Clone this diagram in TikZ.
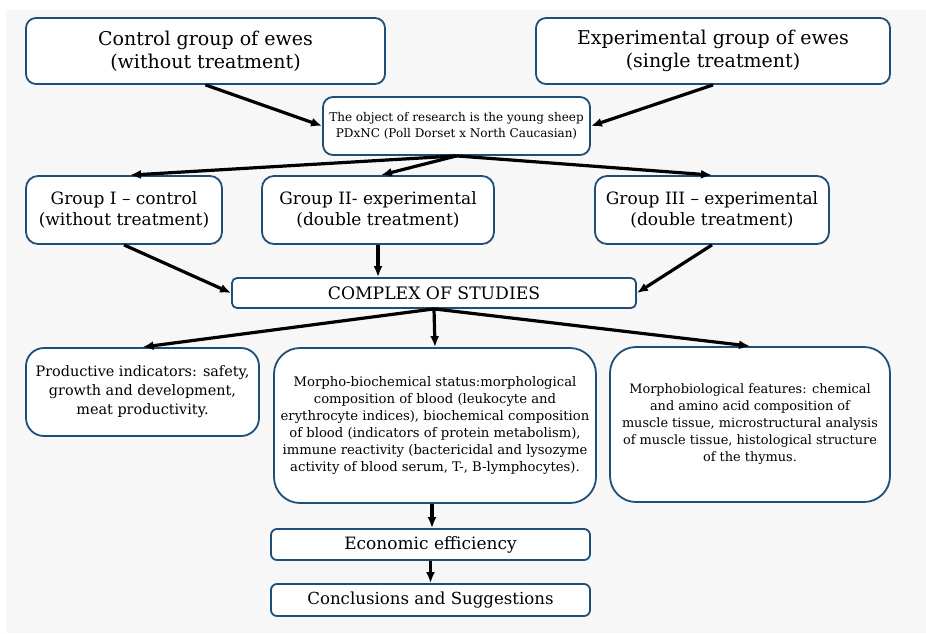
\documentclass[tikz,border=0pt]{standalone}
\usepackage{fontspec}
\setmainfont{DejaVu Serif}
\usepackage{tikz}
\usetikzlibrary{arrows.meta}
\definecolor{boxblue}{RGB}{31,78,121}

\begin{document}
\begin{tikzpicture}[x=1pt,y=-1pt,>={Latex[length=11pt,width=9pt]}]
  \tikzstyle{StudyBox}=[rectangle,rounded corners=10pt,draw=boxblue,line width=1.8pt,fill=white,align=center,inner sep=2pt]
  \tikzstyle{StudyArrow}=[->,line width=3.2pt]
  \useasboundingbox (0,0) rectangle (926,633);
  \fill[black!3] (6,10) rectangle (926,633);

  % groups of ewes
  \node[StudyBox, minimum width=359pt, minimum height=66pt, font=\fontsize{19}{23}\selectfont] (control) at (205.5,51) {Control group of ewes\\(without treatment)};
  \node[StudyBox, minimum width=354pt, minimum height=66pt, font=\fontsize{19}{23}\selectfont] (experimental) at (713,51) {Experimental group of ewes\\(single treatment)};

  % object of research
  \node[StudyBox, minimum width=267pt, minimum height=58pt, font=\fontsize{12}{16}\selectfont] (object) at (456.5,126) {The object of research is the young sheep\\PDxNC (Poll Dorset x North Caucasian)};

  % experimental groups
  \node[StudyBox, rounded corners=12pt, minimum width=196pt, minimum height=68pt, font=\fontsize{17}{21}\selectfont] (groupI) at (124,210) {Group I -- control\\(without treatment)};
  \node[StudyBox, rounded corners=12pt, minimum width=232pt, minimum height=68pt, font=\fontsize{17}{21}\selectfont] (groupII) at (378,210) {Group II- experimental\\(double treatment)};
  \node[StudyBox, rounded corners=12pt, minimum width=234pt, minimum height=68pt, font=\fontsize{17}{21}\selectfont] (groupIII) at (712,210) {Group III -- experimental\\(double treatment)};

  \node[StudyBox, rounded corners=5pt, minimum width=404pt, minimum height=30pt, font=\fontsize{17.2}{18}\selectfont] (complex) at (434,293) {COMPLEX OF STUDIES};

  % studies
  \node[StudyBox, rounded corners=18pt, minimum width=233pt, minimum height=88pt, font=\fontsize{14.4}{19}\selectfont] (productive) at (142.5,392) {Productive indicators: safety,\\growth and development,\\meat productivity.};
  \node[StudyBox, rounded corners=26pt, minimum width=322pt, minimum height=155pt, font=\fontsize{13.2}{17}\selectfont] (morpho) at (435,425.5) {Morpho-biochemical status:morphological\\composition of blood (leukocyte and\\erythrocyte indices), biochemical composition\\of blood (indicators of protein metabolism),\\immune reactivity (bactericidal and lysozyme\\activity of blood serum, T-, B-lymphocytes).};
  \node[StudyBox, rounded corners=26pt, minimum width=280pt, minimum height=155pt, font=\fontsize{12.9}{17}\selectfont] (morphobio) at (750,424.5) {Morphobiological features: chemical\\and amino acid composition of\\muscle tissue, microstructural analysis\\of muscle tissue, histological structure\\of the thymus.};

  % results
  \node[StudyBox, rounded corners=6pt, minimum width=319pt, minimum height=31pt, font=\fontsize{17}{18}\selectfont] (economic) at (430.5,544.5) {Economic efficiency};
  \node[StudyBox, rounded corners=6pt, minimum width=319pt, minimum height=32pt, font=\fontsize{16.6}{18}\selectfont] (conclusions) at (430.5,600) {Conclusions and Suggestions};

  % edges
  \draw[StudyArrow] (control.south) -- (object.west);
  \draw[StudyArrow] (experimental.south) -- (object.east);
  \draw[StudyArrow] (object.south) -- ([xshift=6pt]groupI.north);
  \draw[StudyArrow] (object.south) -- ([xshift=3pt]groupII.north);
  \draw[StudyArrow] (object.south) -- (groupIII.north);
  \draw[StudyArrow] (groupI.south) -- (complex.west);
  \draw[StudyArrow] (groupII.south) -- (groupII.south |- complex.north);
  \draw[StudyArrow] (groupIII.south) -- (complex.east);
  \draw[StudyArrow] (complex.south) -- (productive.north);
  \draw[StudyArrow] (complex.south) -- (morpho.north);
  \draw[StudyArrow] (complex.south) -- (morphobio.north);
  \draw[StudyArrow] ([xshift=-3pt]morpho.south) -- ([xshift=-3pt]morpho.south |- economic.north);
  \draw[StudyArrow] (economic.south) -- (conclusions.north);

\end{tikzpicture}
\end{document}
